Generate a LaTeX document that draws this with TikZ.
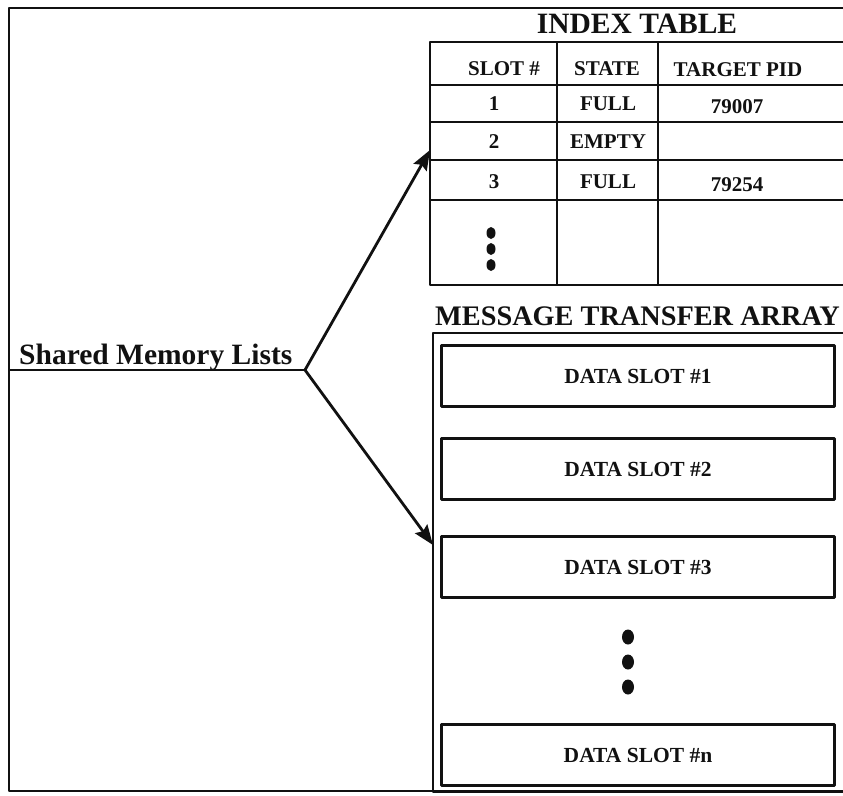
\documentclass[tikz,border=0pt]{standalone}
\usepackage{fontspec}
\setmainfont{Liberation Serif}
\usepackage{xcolor}
\usetikzlibrary{arrows.meta}
\definecolor{ink}{HTML}{111111}
\newcommand{\bigtxt}{\fontsize{29.5}{31}\selectfont\bfseries}
\newcommand{\celltxt}{\fontsize{21}{23}\selectfont\bfseries}
\tikzset{fig/.style={line join=round,>={Stealth[length=20pt,width=15pt,inset=3pt]},x=1pt,y=-1pt},
  rule/.style={ink,line width=2.8pt},
  cell/.style={font=\celltxt,ink,inner sep=0pt},
  slotbox/.style={draw,ink,line width=2.8pt,minimum width=393pt,minimum height=61pt,font=\fontsize{21.5}{23}\selectfont\bfseries}}

\begin{document}
\begin{tikzpicture}[fig]
  \clip(0,0)rectangle(843,795);
  % frame
  \draw[rule](880,8)--(9,8)--(9,791)--(880,791);
  \coordinate(left)at(9,370);
  \coordinate(hub)at(305,370);
  \node[font=\bigtxt,ink,anchor=base west,inner sep=0pt](sml)at(19,364){Shared Memory Lists};
  \draw[rule](left)--(hub);
  % index table
  \node[font=\bigtxt,ink,anchor=base,inner sep=0pt](idxtitle)at(637,33){INDEX TABLE};
  \draw[rule](430,42)rectangle(880,285);
  \foreach \y in {85,122,160,200}\draw[rule](430,\y)--(880,\y);
  \draw[rule](557,42)--(557,285);
  \draw[rule](658,42)--(658,285);
  \node[cell](hslot)at(504,69){SLOT \#};
  \node[cell](hstate)at(607,69){STATE};
  \node[cell](hpid)at(738,70){TARGET PID};
  \foreach \y/\n/\s/\p [count=\i] in {104/1/FULL/79007,142/2/EMPTY/,182/3/FULL/79254}{
    \node[cell](slot\i)at(494,\y){\n};
    \node[cell](state\i)at(608,\y){\s};
    \node[cell](pid\i)at(737,\y+3){\p};
  }
  \foreach \y in {233,249,265}\fill[ink](491,\y)ellipse(4.5 and 6);
  \coordinate(idxin)at(430,150);
  % message transfer array
  \node[font=\fontsize{28.3}{30}\selectfont\bfseries,ink,anchor=base west,inner sep=0pt](mtatitle)at(435,325){MESSAGE TRANSFER ARRAY};
  \draw[rule](433,333)rectangle(880,792);
  \node[slotbox](data1)at(638,376){DATA SLOT \#1};
  \node[slotbox](data2)at(638,469){DATA SLOT \#2};
  \node[slotbox](data3)at(638,567){DATA SLOT \#3};
  \node[slotbox](datan)at(638,755){DATA SLOT \#n};
  \foreach \y in {637,662,687}\fill[ink](628,\y)ellipse(6 and 7.5);
  \coordinate(mtain)at(433,545);
  % arrows
  \draw[rule,->](hub)--(idxin);
  \draw[rule,->](hub)--(mtain);
\end{tikzpicture}
\end{document}
